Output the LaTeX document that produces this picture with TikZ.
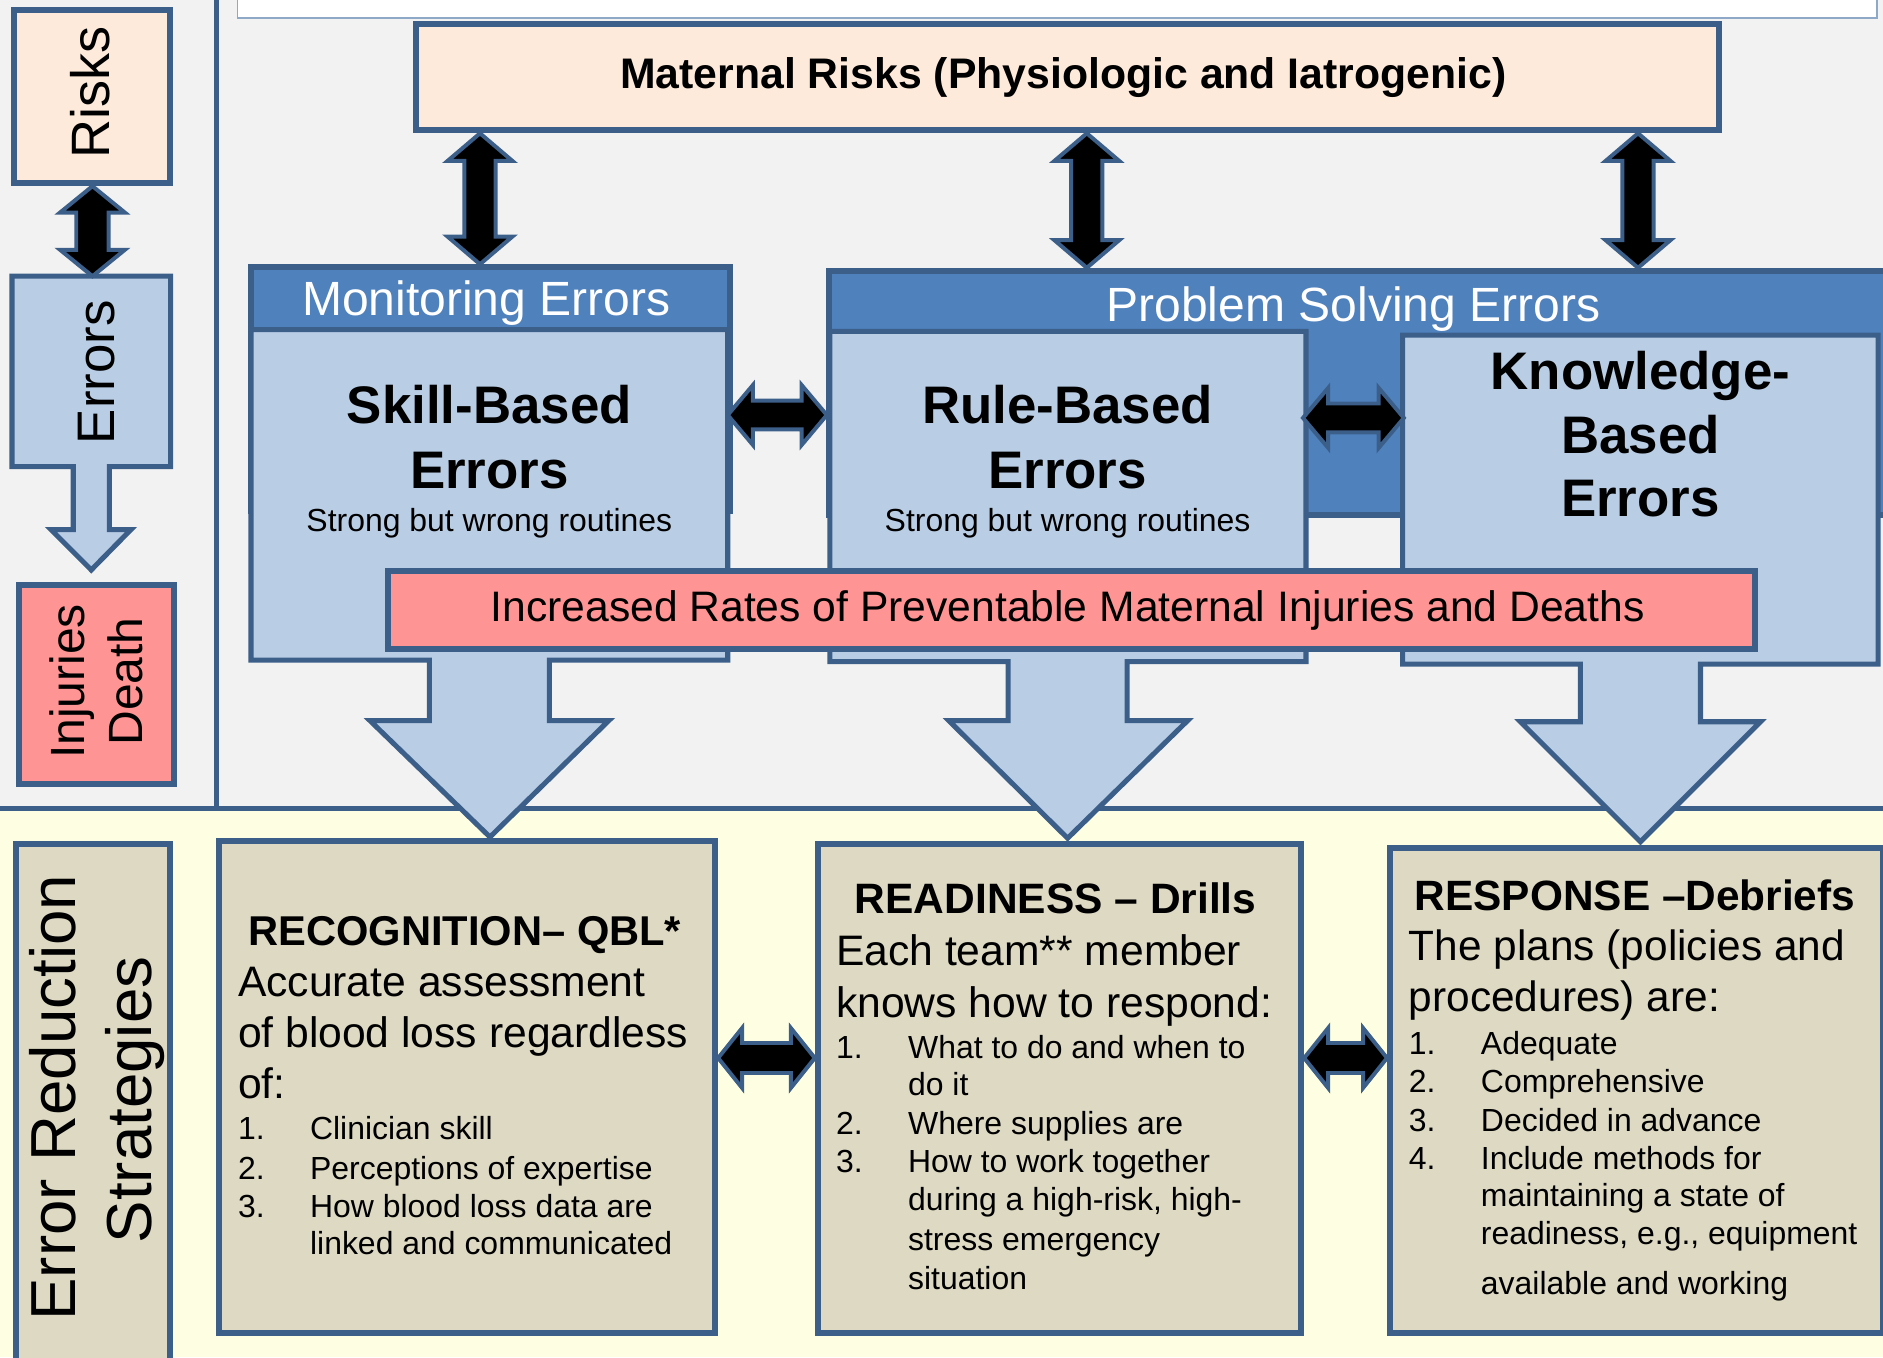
\documentclass[tikz,border=0pt]{standalone}
\usepackage{fontspec}
\setmainfont{Liberation Sans}
\usetikzlibrary{calc}
\definecolor{bd}{HTML}{3C5F8A}
\definecolor{hdr}{HTML}{4F81BD}
\definecolor{lb}{HTML}{B9CDE5}
\definecolor{peach}{HTML}{FDEADA}
\definecolor{pinkc}{HTML}{FF9494}
\definecolor{tanc}{HTML}{DDD9C3}
\definecolor{bgtop}{HTML}{F2F2F2}
\definecolor{bgbot}{HTML}{FEFEE2}
\definecolor{wbd}{HTML}{8EA9C8}
\newcommand\fsz[1]{\fontsize{#1pt}{#1pt}\selectfont}
\newcommand\bfz[1]{\fontsize{#1pt}{#1pt}\selectfont\bfseries}
\newcommand\vdarr[5]{\draw[dblar] let \p1=(#1), \p2=(#2) in
 (\x1,\y1) -- (\x1+#3,\y1-#5) -- (\x1+#4,\y1-#5) -- (\x1+#4,\y2+#5) -- (\x1+#3,\y2+#5) -- (\x1,\y2)
 -- (\x1-#3,\y2+#5) -- (\x1-#4,\y2+#5) -- (\x1-#4,\y1-#5) -- (\x1-#3,\y1-#5) -- cycle;}
\newcommand\hdarr[5]{\draw[dblar] let \p1=(#1), \p2=(#2) in
 (\x1,\y1) -- (\x1+#5,\y1+#3) -- (\x1+#5,\y1+#4) -- (\x2-#5,\y1+#4) -- (\x2-#5,\y1+#3) -- (\x2,\y1)
 -- (\x2-#5,\y1-#3) -- (\x2-#5,\y1-#4) -- (\x1+#5,\y1-#4) -- (\x1+#5,\y1-#3) -- cycle;}
\tikzset{
 box/.style={draw=bd, line width=5pt, inner sep=0pt, anchor=north west, rectangle},
 callout/.style={draw=bd, line width=4.2pt, fill=lb, line join=miter},
 dblar/.style={fill=black, draw=bd, line width=3.3pt, line join=miter},
 tx/.style={inner sep=0pt, anchor=base},
 txl/.style={inner sep=0pt, anchor=base west},
 rt/.style={inner sep=0pt, anchor=base, rotate=90},
}
\begin{document}
\begin{tikzpicture}[x=1pt,y=-1pt]
\useasboundingbox (0,0) rectangle (1568,1130);
% backgrounds
\fill[bgtop] (0,0) rectangle (1568,673);
\fill[bgbot] (0,673) rectangle (1568,1130);
\draw[bd, line width=4pt] (0,673) -- (1568,673);
\draw[bd, line width=3.5pt] (180.3,-5) -- (180.3,673);
% white top box (cut off)
\node[draw=wbd, line width=1.5pt, fill=white, inner sep=0pt, anchor=north west, minimum width=1365pt, minimum height=30pt] (wtop) at (197,-15.5) {};

% left column
\node[box, fill=peach, minimum width=129.7pt, minimum height=144.5pt] (rk) at (9.3,5.5) {};
\node[rt, font=\fsz{45}] (rkT) at (91,77) {Risks};
\coordinate (eT) at (77,230);
\draw[callout] (10,230) -- (142,230) -- (142,388.6) -- (91,388.6) -- (91,441) -- (109,441) -- (76,474.6)
  -- (42.5,441) -- (61,441) -- (61,388.6) -- (10,388.6) -- cycle;
\node[rt, font=\fsz{44}] (erT) at (95,310) {Errors};
\node[box, fill=pinkc, minimum width=128.5pt, minimum height=165pt] (inj) at (13.5,485) {};
\node[rt, font=\fsz{40}] (injT) at (70.6,567.5) {Injuries};
\node[rt, font=\fsz{40}] (dthT) at (118.6,567.5) {Death};
\vdarr{rk.south -| eT}{eT}{27pt}{13.5pt}{22pt}

% maternal risks
\node[box, fill=peach, minimum width=1085pt, minimum height=88.8pt] (mat) at (344,17.2) {};
\node[tx, font=\bfz{35.6}] (matT) at (885.5,73.5) {Maternal Risks (Physiologic and Iatrogenic)};

% groups
\node[box, fill=hdr, minimum width=399pt, minimum height=203pt] (mon) at (206.5,220) {};
\node[box, fill=hdr, minimum width=900pt, minimum height=203pt] (psg) at (688,223) {};
\node[tx, font=\fsz{40}, text=white] (monT) at (405,262.3) {Monitoring Errors};
\node[tx, font=\fsz{40}, text=white] (psgT) at (1127,268) {Problem Solving Errors};

% error callouts
\draw[callout] (209,274.5) -- (606,274.5) -- (606,549.6) -- (457.5,549.6) -- (457.5,600) -- (507,600) -- (408,697)
  -- (308,600) -- (357.5,600) -- (357.5,549.6) -- (209,549.6) -- cycle;
\draw[callout] (691,276) -- (1087.5,276) -- (1087.5,551) -- (938.5,551) -- (938.5,600) -- (989,600) -- (889,698)
  -- (790,600) -- (839.5,600) -- (839.5,551) -- (691,551) -- cycle;
\draw[callout] (1168,279) -- (1564,279) -- (1564,553) -- (1416,553) -- (1416,601) -- (1466,601) -- (1366,701)
  -- (1266,601) -- (1316,601) -- (1316,553) -- (1168,553) -- cycle;

\node[tx, font=\bfz{44}] (sk1) at (407.5,353) {Skill-Based};
\node[tx, font=\bfz{44}] (sk2) at (407.5,406.4) {Errors};
\node[tx, font=\fsz{26.6}] (sk3) at (407.5,442.7) {Strong but wrong routines};
\node[tx, font=\bfz{44}] (ru1) at (889,353) {Rule-Based};
\node[tx, font=\bfz{44}] (ru2) at (889,406.4) {Errors};
\node[tx, font=\fsz{26.6}] (ru3) at (889,442.7) {Strong but wrong routines};
\node[tx, font=\bfz{44}] (kn1) at (1366,324) {Knowledge-};
\node[tx, font=\bfz{44}] (kn2) at (1366,377.5) {Based};
\node[tx, font=\bfz{44}] (kn3) at (1366,430) {Errors};

% increased rates
\node[box, fill=pinkc, minimum width=1138pt, minimum height=65pt] (inc) at (321,473) {};
\node[tx, font=\fsz{35.5}] (incT) at (889,517.7) {Increased Rates of Preventable Maternal Injuries and Deaths};

% arrows top
\coordinate (ax1) at (399.7,0);
\coordinate (ax2) at (905,0);
\coordinate (ax3) at (1364,0);
\vdarr{mat.south -| ax1}{mon.north -| ax1}{27pt}{13pt}{23pt}
\vdarr{mat.south -| ax2}{psg.north -| ax2}{27pt}{13pt}{23pt}
\vdarr{mat.south -| ax3}{psg.north -| ax3}{27pt}{13pt}{23pt}
\coordinate (skE) at (606,345.6);
\coordinate (ruW) at (688.5,345.6);
\coordinate (ruE) at (1085,348);
\coordinate (knW) at (1169,348);
\hdarr{skE}{ruW}{25pt}{12pt}{21pt}
\hdarr{ruE}{knW}{25pt}{12pt}{21pt}

% bottom section
\node[box, fill=tanc, minimum width=128pt, minimum height=450pt] (ers) at (11,700) {};
\node[rt, font=\fsz{53}] (ers1) at (63,914) {Error Reduction};
\node[rt, font=\fsz{53}] (ers2) at (126,916) {Strategies};

\node[box, fill=tanc, minimum width=413pt, minimum height=409.5pt] (rec) at (180,698) {};
\node[box, fill=tanc, minimum width=402.5pt, minimum height=407.5pt] (rdy) at (678.5,700) {};
\node[box, fill=tanc, minimum width=410.5pt, minimum height=404pt] (rsp) at (1155,703.5) {};

\coordinate (by) at (0,881);
\hdarr{rec.east |- by}{rdy.west |- by}{25pt}{12.5pt}{20pt}
\hdarr{rdy.east |- by}{rsp.west |- by}{25pt}{12.5pt}{20pt}

% recognition text
\node[tx, font=\bfz{34.7}] (rc0) at (387,787) {RECOGNITION– QBL*};
\node[txl, font=\fsz{35.5}] (rc1) at (198,829.5) {Accurate assessment};
\node[txl, font=\fsz{35.5}] (rc2) at (198,872.4) {of blood loss regardless};
\node[txl, font=\fsz{35.5}] (rc3) at (198,915) {of:};
\node[txl, font=\fsz{26.6}] (rn1) at (198,949) {1.};
\node[txl, font=\fsz{26.6}] (rl1) at (258,949) {Clinician skill};
\node[txl, font=\fsz{26.6}] (rn2) at (198,982) {2.};
\node[txl, font=\fsz{26.6}] (rl2) at (258,982) {Perceptions of expertise};
\node[txl, font=\fsz{26.6}] (rn3) at (198,1013.5) {3.};
\node[txl, font=\fsz{26.6}] (rl3) at (258,1013.5) {How blood loss data are};
\node[txl, font=\fsz{26.6}] (rl4) at (258,1045) {linked and communicated};

% readiness text
\node[tx, font=\bfz{35.4}] (rd0) at (879,761) {READINESS – Drills};
\node[txl, font=\fsz{35.5}] (rd1) at (696,804) {Each team** member};
\node[txl, font=\fsz{35.5}] (rd2) at (696,847) {knows how to respond:};
\node[txl, font=\fsz{26.6}] (dn1) at (696,881) {1.};
\node[txl, font=\fsz{26.6}] (dl1) at (756,881) {What to do and when to};
\node[txl, font=\fsz{26.6}] (dl2) at (756,912) {do it};
\node[txl, font=\fsz{26.6}] (dn2) at (696,945) {2.};
\node[txl, font=\fsz{26.6}] (dl3) at (756,945) {Where supplies are};
\node[txl, font=\fsz{26.6}] (dn3) at (696,976.5) {3.};
\node[txl, font=\fsz{26.6}] (dl4) at (756,976.5) {How to work together};
\node[txl, font=\fsz{26.6}] (dl5) at (756,1008) {during a high-risk, high-};
\node[txl, font=\fsz{26.6}] (dl6) at (756,1041) {stress emergency};
\node[txl, font=\fsz{26.6}] (dl7) at (756,1073.5) {situation};

% response text
\node[tx, font=\bfz{35.3}] (rs0) at (1361.5,758.4) {RESPONSE –Debriefs};
\node[txl, font=\fsz{35.3}] (rs1) at (1173,799.7) {The plans (policies and};
\node[txl, font=\fsz{35.3}] (rs2) at (1173,842.5) {procedures) are:};
\node[txl, font=\fsz{26.6}] (sn1) at (1173,878) {1.};
\node[txl, font=\fsz{26.6}] (sl1) at (1233,878) {Adequate};
\node[txl, font=\fsz{26.6}] (sn2) at (1173,909.5) {2.};
\node[txl, font=\fsz{26.6}] (sl2) at (1233,909.5) {Comprehensive};
\node[txl, font=\fsz{26.6}] (sn3) at (1173,942) {3.};
\node[txl, font=\fsz{26.6}] (sl3) at (1233,942) {Decided in advance};
\node[txl, font=\fsz{26.6}] (sn4) at (1173,973.6) {4.};
\node[txl, font=\fsz{26.6}] (sl4) at (1233,973.6) {Include methods for};
\node[txl, font=\fsz{26.6}] (sl5) at (1233,1005) {maintaining a state of};
\node[txl, font=\fsz{26.6}] (sl6) at (1233,1036.5) {readiness, e.g., equipment};
\node[txl, font=\fsz{26.6}] (sl7) at (1233,1077.7) {available and working};
\end{tikzpicture}
\end{document}
